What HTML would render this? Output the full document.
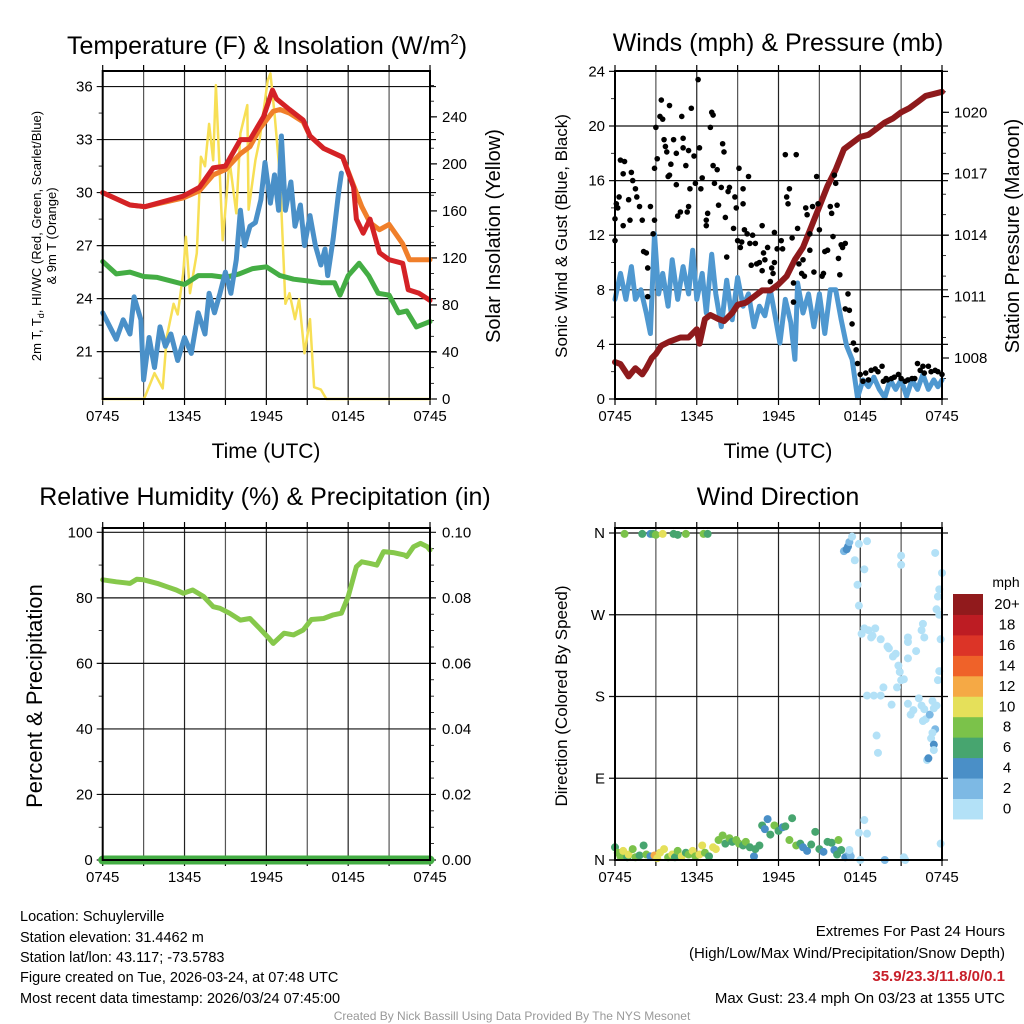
<!DOCTYPE html>
<html><head><meta charset="utf-8"><style>
html,body{margin:0;padding:0;background:#fff;}
svg{display:block;font-family:"Liberation Sans",Arial,sans-serif;}
</style></head><body>
<svg id="c" width="1024" height="1024" viewBox="0 0 1024 1024" xmlns="http://www.w3.org/2000/svg">
<rect width="1024" height="1024" fill="#fff"/>
<text x="267" y="54" font-size="25" text-anchor="middle">Temperature (F) &amp; Insolation (W/m<tspan dy="-10" font-size="15">2</tspan><tspan dy="10">)</tspan></text>
<text x="778" y="51" font-size="25" text-anchor="middle">Winds (mph) &amp; Pressure (mb)</text>
<text x="265" y="505" font-size="25" text-anchor="middle">Relative Humidity (%) &amp; Precipitation (in)</text>
<text x="778" y="505" font-size="25" text-anchor="middle">Wind Direction</text>
<text x="266" y="458" font-size="21" text-anchor="middle">Time (UTC)</text>
<text x="778" y="458" font-size="21" text-anchor="middle">Time (UTC)</text>
<text transform="translate(41,236) rotate(-90)" font-size="13" text-anchor="middle">2m T, T<tspan dy="3" font-size="9">d</tspan><tspan dy="-3">, HI/WC (Red, Green, Scarlet/Blue)</tspan></text>
<text transform="translate(56,236) rotate(-90)" font-size="13" text-anchor="middle">&amp; 9m T (Orange)</text>
<text transform="translate(500,236) rotate(-90)" font-size="20" text-anchor="middle">Solar Insolation (Yellow)</text>
<text transform="translate(567,236) rotate(-90)" font-size="17" text-anchor="middle">Sonic Wind &amp; Gust (Blue, Black)</text>
<text transform="translate(1019,236) rotate(-90)" font-size="20" text-anchor="middle">Station Pressure (Maroon)</text>
<text transform="translate(42,696) rotate(-90)" font-size="22" text-anchor="middle">Percent &amp; Precipitation</text>
<text transform="translate(567,696) rotate(-90)" font-size="17" text-anchor="middle">Direction (Colored By Speed)</text>
<g font-size="14.5">
<text x="20" y="921">Location: Schuylerville</text>
<text x="20" y="942">Station elevation: 31.4462 m</text>
<text x="20" y="962">Station lat/lon: 43.117; -73.5783</text>
<text x="20" y="982">Figure created on Tue, 2026-03-24, at 07:48 UTC</text>
<text x="20" y="1003">Most recent data timestamp: 2026/03/24 07:45:00</text>
</g>
<g font-size="15" text-anchor="end">
<text x="1005" y="936">Extremes For Past 24 Hours</text>
<text x="1005" y="958">(High/Low/Max Wind/Precipitation/Snow Depth)</text>
<text x="1005" y="981" fill="#c8202a" font-weight="bold">35.9/23.3/11.8/0/0.1</text>
<text x="1005" y="1003">Max Gust: 23.4 mph On 03/23 at 1355 UTC</text>
</g>
<text x="512" y="1020" font-size="12" fill="#999" text-anchor="middle">Created By Nick Bassill Using Data Provided By The NYS Mesonet</text>
</svg>
<script>
// ---------- data ----------
const xTickLabels = ["0745","1345","1945","0145","0745"];
const tempTicks = [21,24,27,30,33,36];
const insolTicks = [0,40,80,120,160,200,240];
const windTicks = [0,4,8,12,16,20,24];
const presTicks = [1008,1011,1014,1017,1020];
const rhTicks = [0,20,40,60,80,100];
const precipTicks = ["0.00","0.02","0.04","0.06","0.08","0.10"];
const dirTicks = ["N","E","S","W","N"];
const dirTickVals = [0,90,180,270,360];

const tHours = [0,2.0,3.1,5.9,7.1,8.1,9.0,10.1,10.8,11.8,12.45,12.75,13.7,14.7,15.2,16.2,17.6,18.4,18.6,19.1,19.6,20.3,21.0,22.0,22.4,23.2,24];
const tempRed = [30.0,29.3,29.2,29.8,30.3,31.4,31.5,33.0,33.0,34.3,35.8,35.3,34.7,34.1,33.2,32.5,32.0,30.3,28.5,27.7,28.5,26.6,26.2,26.0,24.5,24.3,23.9];
const orHours = [0,2.0,3.1,5.9,7.1,8.1,9.0,10.1,10.8,11.5,12.5,13.0,13.7,14.7,15.2,16.2,17.6,18.4,19.0,19.6,20.3,21.0,22.0,22.5,24];
const tempOrange = [30.0,29.3,29.2,29.7,30.1,31.0,31.3,32.2,32.6,33.6,34.6,34.7,34.5,34.0,33.2,32.5,32.0,30.4,29.2,28.3,27.9,28.2,27.1,26.2,26.2];
const dHours = [0,1,2,3,4,5,6,7,8,9,10,11,12,13,14,15,16,17,17.4,18,18.8,19.5,20.2,21,21.7,22.3,23,24];
const dewpoint = [26.1,25.4,25.5,25.25,25.2,25.0,24.8,25.3,25.3,25.2,25.4,25.7,25.8,25.3,25.1,25.0,24.9,24.9,24.2,25.3,26.0,25.3,24.3,24.2,23.2,23.3,22.4,22.7];
const wcHours = [0,1,1.5,2,2.3,2.8,3,3.4,3.8,4.2,4.6,5,5.5,6,6.5,7,7.5,7.8,8.2,8.6,9,9.4,9.8,10.1,10.4,10.8,11.2,11.6,11.9,12.3,12.6,12.9,13.1,13.4,13.8,14.1,14.5,14.8,15.2,15.6,16,16.3,16.5,16.9,17.3,17.5];
const windChill = [23.2,21.7,22.8,22.0,24.1,22.8,19.4,21.8,20.1,22.4,21.3,22.0,20.5,21.8,20.9,23.2,22.0,24.3,23.2,24.3,25.5,24.3,26.2,29.0,27.0,28.1,28.3,29.6,31.7,29.4,31.0,29.0,33.2,29.0,30.6,28.1,29.3,27.0,28.7,27.0,25.9,26.8,25.3,27.4,30.0,31.1];
const sHours = [0,3,3.1,3.8,4.4,4.7,5.2,5.5,5.9,6.1,6.4,6.9,7.2,7.5,7.8,8.1,8.3,8.8,9.1,9.3,9.8,10.1,10.6,10.7,11.2,11.5,11.9,12.1,12.3,12.6,13,13.4,13.7,14.1,14.4,14.8,15.2,15.5,16,16.4,24];
const insolation = [0,0,2,22,9,53,81,72,107,138,90,124,206,198,234,203,267,135,175,203,158,226,250,161,203,220,254,271,277,243,189,81,90,68,85,39,68,10,8,0,0];

const wHours = [0,0.4,0.8,1.2,1.5,1.9,2.3,2.6,2.9,3.2,3.5,3.9,4.2,4.6,5,5.4,5.7,6,6.4,6.7,7.1,7.4,7.8,8.2,8.6,9,9.4,9.8,10.2,10.6,11,11.4,11.8,12.1,12.5,12.9,13.2,13.4,13.8,14.2,14.6,15,15.4,15.8,16.2,16.6,17,17.4,17.8,18.2,18.6,19,19.4,19.8,20.2,20.6,21,21.4,21.8,22.2,22.6,23,23.4,23.7,24];
const windSpeed = [7.3,9.2,7.3,9.7,7.3,8.0,6.3,4.8,12.1,7.7,9.2,6.8,10.2,7.3,9.7,7.7,10.9,7.3,9.2,6.3,10.6,7.7,5.3,8.7,5.8,8.9,6.8,7.7,5.3,6.8,6.1,8.0,5.8,4.1,7.3,5.6,2.9,8.5,6.3,7.7,5.3,7.7,4.8,8.0,8.0,5.8,3.9,2.9,0.1,1.4,0.9,1.6,0.7,0.1,1.4,0.7,1.4,0.2,1.4,0.7,1.8,0.7,1.4,0.9,1.4];
const pHours = [0,0.4,1,1.5,2,2.3,2.7,3,3.4,4,4.8,5.4,6,6.2,6.6,7,7.6,8,8.6,9,9.6,10.2,10.8,11.4,12,12.6,13.2,13.8,14.4,15,15.6,16.2,16.8,17.4,18,18.6,19.2,19.8,20.4,21,21.6,22.2,22.8,23.4,24];
const pressure = [1007.8,1007.7,1007.1,1007.5,1007.2,1007.5,1008.0,1008.2,1008.6,1008.8,1009.0,1009.0,1009.4,1008.7,1009.9,1010.1,1009.9,1009.8,1010.2,1010.6,1010.7,1011.0,1011.3,1011.3,1011.6,1012.0,1012.8,1013.4,1014.4,1015.4,1016.4,1017.2,1018.2,1018.5,1018.8,1018.9,1019.2,1019.5,1019.7,1020.0,1020.2,1020.5,1020.8,1020.9,1021.0];
const gustHours = [0.0,0.0,0.1,0.2,0.4,0.6,0.7,0.6,0.3,1.0,1.1,1.2,1.3,1.5,1.6,1.8,2.0,2.1,2.3,2.4,2.6,2.4,2.8,2.9,3.0,2.9,3.1,3.3,3.4,3.5,3.6,3.7,3.8,3.9,4.0,4.1,4.0,4.3,4.5,4.5,4.6,4.8,4.9,5.0,5.0,5.2,5.3,5.4,5.5,5.6,5.4,5.8,5.9,6.1,6.2,6.3,6.4,6.7,6.7,6.8,7.0,7.1,7.2,7.2,7.3,7.5,7.6,7.8,7.9,8.0,8.1,8.2,8.3,8.4,8.7,8.8,8.9,9.0,9.1,9.2,9.3,9.4,9.4,9.5,9.7,9.8,9.9,10.0,10.1,10.3,10.4,10.6,10.8,10.8,10.9,11.0,11.2,11.4,11.5,11.6,11.7,11.9,11.7,12.2,12.3,12.5,12.6,12.7,12.8,13.0,13.1,13.1,13.3,13.4,13.5,13.7,13.8,13.9,14.0,14.1,14.3,14.3,14.5,14.6,14.8,14.9,15.0,15.2,15.3,15.4,15.6,15.8,15.9,16.0,16.1,16.2,16.3,16.4,16.5,16.6,16.7,16.9,16.9,17.1,17.2,17.4,17.5,17.7,17.8,18.0,18.2,18.4,18.6,18.8,19.1,19.3,19.6,19.7,19.9,20.0,20.3,20.5,20.8,21.0,21.3,21.5,21.8,22.0,22.2,22.4,22.6,22.7,23.0,23.2,23.5,23.7,24.0];
const gustSpeed = [11.6,13.2,14.3,14.0,17.5,16.5,17.4,12.7,14.8,14.6,13.1,16.6,16.0,15.4,14.8,14.1,13.1,10.8,10.7,9.6,14.1,7.5,12.1,13.1,19.9,16.9,17.6,20.7,21.9,20.5,19.0,18.5,18.1,16.3,16.4,17.2,21.5,19.0,18.0,15.7,13.4,13.7,20.7,18.4,19.1,17.1,13.7,18.2,15.4,21.3,14.1,17.8,15.8,23.4,18.4,15.4,16.2,13.1,12.7,13.6,19.9,21.0,20.8,17.1,15.8,16.8,14.2,15.5,18.7,18.1,13.3,10.4,15.2,15.5,12.5,14.8,14.0,11.6,16.9,11.1,11.5,14.3,15.4,12.4,12.1,16.3,11.4,9.8,12.0,11.4,9.9,10.0,12.7,9.4,10.7,10.2,11.1,8.6,9.6,9.2,10.0,11.0,12.2,11.6,11.0,17.9,14.8,14.3,15.4,11.8,8.5,7.1,17.9,12.5,9.9,9.2,10.2,9.0,14.0,13.5,10.9,12.1,14.1,9.3,16.3,14.3,12.4,9.0,9.2,10.8,10.9,14.1,13.6,11.9,16.4,15.8,14.2,10.3,9.1,11.3,11.1,11.4,6.6,7.7,6.5,5.5,4.1,3.6,2.6,1.8,1.3,1.9,1.4,2.1,2.2,2.0,2.4,1.3,1.5,1.4,1.5,1.6,1.8,1.5,1.3,1.4,1.5,1.5,2.6,2.1,2.4,1.9,2.4,2.0,2.1,2.0,1.8];

const rhHours = [0,1.0,2.0,2.5,3.0,4.0,4.7,5.4,5.9,6.6,7.4,8.1,8.6,9.3,10.1,10.8,11.5,12.2,12.5,13.3,14.0,14.7,15.3,16.2,16.9,17.5,18.0,18.6,19.0,19.6,20.1,20.6,21.3,22.1,22.3,22.8,23.3,23.8,24];
const relHumidity = [85.5,84.9,84.4,85.7,85.5,84.4,83.4,82.4,81.4,82.4,80.4,77.3,76.8,75.3,73.2,73.7,70.7,67.6,66.1,69.2,68.7,70.2,73.4,73.7,74.8,75.3,80.4,89.5,91.0,90.5,90.0,94.1,93.8,93.1,92.6,95.6,96.6,95.6,94.6];
const precipHours = [0,24];
const precip = [0,0];

const dirHours = [0.7,2.0,2.6,2.8,3.0,3.5,4.3,4.6,5.2,6.5,6.8,0.0,0.2,0.4,0.6,0.9,1.0,1.3,1.5,1.8,2.1,2.3,2.6,2.9,3.1,3.3,3.6,3.9,4.2,4.4,4.6,4.9,5.2,5.4,5.7,5.9,6.2,6.4,6.6,6.9,7.2,7.4,7.6,7.9,8.1,8.4,8.6,8.9,9.1,9.4,9.6,9.9,10.2,10.3,10.6,10.8,11.0,11.2,11.4,11.7,12.0,12.3,12.5,13.0,12.8,13.3,13.6,13.8,14.1,14.4,14.7,15.0,15.3,15.6,15.9,16.1,16.3,16.4,16.6,16.9,17.2,17.3,16.8,17.0,17.1,17.2,17.4,17.6,17.9,17.8,18.5,18.3,17.9,18.6,18.1,18.3,18.9,19.1,18.8,19.5,20.1,20.0,20.4,20.6,20.8,20.9,21.2,21.0,20.3,20.7,18.5,19.0,19.5,21.0,21.0,21.5,21.7,21.9,22.3,22.5,22.7,22.8,23.1,23.4,23.3,23.6,23.5,23.2,23.4,23.3,22.9,23.0,23.4,22.6,19.7,19.2,19.3,23.6,23.8,23.8,23.7,23.5,24.0,23.9,23.8,23.7,22.7,22.5,22.6,22.1,21.5,21.5,21.5,18.3,17.9,18.5,17.2,18.0,19.8,21.2,21.3,23.9];
const dirDegrees = [359,359,359,359,358,359,359,358,359,359,359,14,8,4,10,3,6,12,3,5,16,6,4,5,2,8,12,3,6,3,10,4,8,6,10,4,6,16,8,4,14,12,22,27,18,24,20,22,18,16,20,14,4,12,16,38,34,45,28,38,32,36,37,46,22,16,18,14,10,17,31,12,9,20,19,11,6,22,11,3,8,4,340,342,345,350,356,330,348,303,351,320,280,253,249,255,247,255,245,243,233,235,224,227,214,207,199,198,171,190,181,181,181,335,325,172,160,165,178,170,166,155,160,167,175,170,144,134,127,140,110,112,121,153,190,137,118,276,270,298,290,338,316,243,208,198,245,253,260,230,222,240,245,44,30,29,11,0,0,3,0,18];
const dirSpeeds = [8,6,4,6,8,10,6,6,8,8,6,6,8,8,10,6,10,8,8,6,6,8,4,12,10,10,10,8,10,6,8,10,6,8,10,8,10,10,8,6,10,10,8,8,6,8,6,8,8,6,8,6,4,6,6,6,4,4,6,8,6,4,6,6,8,8,6,4,4,6,6,6,4,6,6,4,6,8,6,4,2,2,2,4,4,2,0,0,0,0,0,0,0,0,0,0,0,0,0,0,0,0,0,0,0,0,0,0,0,0,0,0,0,0,0,0,0,0,0,0,0,0,2,0,0,0,2,0,4,0,0,4,0,0,0,0,0,0,0,0,0,0,0,0,0,0,0,0,0,0,0,0,0,0,0,0,0,0,2,0,0,0,0,0];
const speedBins = ["0","2","4","6","8","10","12","14","16","18","20+"];
const speedColors = ["#b3e1f7","#7db9e4","#4a8fc7","#47a56f","#7bc24a","#e5e05a","#f5a945","#ef6229","#dc3427","#bd1c23","#911a1c"];

// ---------- drawing ----------
const svg = document.getElementById('c');
const NS = 'http://www.w3.org/2000/svg';
function mk(tag, attrs, parent){const e=document.createElementNS(NS,tag);for(const k in attrs)e.setAttribute(k,attrs[k]);(parent||svg).appendChild(e);return e;}
function lin(d0,d1,r0,r1){return v=>r0+(v-d0)*(r1-r0)/(d1-d0);}

const P1={x0:102.7,x1:430,y0:71,y1:399}, P2={x0:615,x1:942,y0:71,y1:399};
const P3={x0:102.7,x1:430,y0:528,y1:860}, P4={x0:615,x1:942,y0:528,y1:860};

function frame(P,name,hLines){
  const g=mk('g',{});
  
  
  const xs=lin(0,24,P.x0,P.x1);
  for(let h=0;h<=24;h+=3){
    const x=xs(h);
    mk('line',{x1:x,x2:x,y1:P.y0,y2:P.y1,stroke:(h%6===0?'#222':'#555'),'stroke-width':1.2},g);
    mk('line',{x1:x,x2:x,y1:P.y1,y2:P.y1+6,stroke:'#000','stroke-width':1.2},g);
    mk('line',{x1:x,x2:x,y1:P.y0,y2:P.y0-6,stroke:'#000','stroke-width':1.2},g);
  }
  hLines.forEach(y=>{mk('line',{x1:P.x0-6,x2:P.x1+6,y1:y,y2:y,stroke:'#111','stroke-width':1.2},g);});
  xTickLabels.forEach((t,i)=>{
    const tl=mk('text',{x:xs(i*6),y:P.y1+22,'font-size':15,'text-anchor':'middle'},g);
    tl.textContent=t;
    
    
  });
  return xs;
}
function border(P,name){
  const r=mk('rect',{x:P.x0,y:P.y0,width:P.x1-P.x0,height:P.y1-P.y0,fill:'none',stroke:'#000','stroke-width':2});
  
  
}
function yLabels(vals,ys,x,anchor,name,fmt){
  vals.forEach(v=>{
    const t=mk('text',{x:x,y:ys(v)+5,'font-size':15,'text-anchor':anchor});
    t.textContent=fmt?fmt(v):v;
    
    
  });
}
function minor(P,ys,from,to,step,side){
  for(let v=from;v<=to+1e-9;v+=step){
    const y=ys(v); if(y<P.y0-0.5||y>P.y1+0.5)continue;
    if(side==='l') mk('line',{x1:P.x0-4,x2:P.x0,y1:y,y2:y,stroke:'#000','stroke-width':0.8});
    else mk('line',{x1:P.x1,x2:P.x1+4,y1:y,y2:y,stroke:'#000','stroke-width':0.8});
  }
}
function path(xs,ys,hx,vy,color,w,name){
  let d='';
  hx.forEach((h,i)=>{d+=(i?'L':'M')+xs(h).toFixed(1)+','+ys(vy[i]).toFixed(1);});
  const p=mk('path',{d:d,fill:'none',stroke:color,'stroke-width':w,'stroke-linejoin':'round','stroke-linecap':'round'});
  
  
  return p;
}

// Panel 1
const yT=lin(18.32,36.88,P1.y1,P1.y0);
const yI=lin(0,279,P1.y1,P1.y0);
const x1=frame(P1,'temp',tempTicks.map(yT));
minor(P1,yT,19.5,36,3,'l'); minor(P1,yI,0,278,13.333,'r');
insolTicks.forEach(v=>mk('line',{x1:P1.x1,x2:P1.x1+7,y1:yI(v),y2:yI(v),stroke:'#000','stroke-width':1.2}));
path(x1,yI,sHours,insolation,'#f7df55',2.5,'insolation-line');
path(x1,yT,dHours,dewpoint,'#44ad44',5,'dewpoint-line');
path(x1,yT,wcHours,windChill,'#4a90c8',5,'wind-chill-line');
path(x1,yT,orHours,tempOrange,'#f07f2a',5,'temp-9m-line');
path(x1,yT,tHours,tempRed,'#d42226',5,'temp-2m-line');
border(P1,'temp');
yLabels(tempTicks,yT,P1.x0-10,'end','temp-y-tick-label');
yLabels(insolTicks,yI,P1.x1+12,'start','insolation-y-tick-label');

// Panel 2
const yW=lin(0,24,P2.y1,P2.y0+0.4);
const yP=lin(1008,1020,358,112.3);
const x2=frame(P2,'wind',windTicks.map(yW));
minor(P2,yW,2,22,4,'l'); minor(P2,yP,1006,1022,1,'r');
presTicks.forEach(v=>mk('line',{x1:P2.x1,x2:P2.x1+7,y1:yP(v),y2:yP(v),stroke:'#000','stroke-width':1.2}));
path(x2,yW,wHours,windSpeed,'#4f98d0',5,'sonic-wind-line');
path(x2,yP,pHours,pressure,'#8e1a1c',6,'pressure-line');
gustHours.forEach((h,i)=>{
  const c=mk('circle',{cx:x2(h),cy:yW(gustSpeed[i]),r:2.8,fill:'#000'});
  
  
});
border(P2,'wind');
yLabels(windTicks,yW,P2.x0-10,'end','wind-y-tick-label');
yLabels(presTicks,yP,P2.x1+12,'start','pressure-y-tick-label');

// Panel 3
const yR=lin(0,100,860,532.3);
const x3=frame(P3,'rh',rhTicks.map(yR));
minor(P3,yR,10,90,20,'l'); minor(P3,yR,5,95,5,'r');
path(x3,yR,rhHours,relHumidity,'#86c84b',5,'rh-line');
path(x3,v=>860-v*3276,precipHours,precip,'#44ad44',9,'precip-line');
border(P3,'rh');
yLabels(rhTicks,yR,P3.x0-10,'end','rh-y-tick-label');
precipTicks.forEach((t,i)=>{
  const tl=mk('text',{x:P3.x1+12,y:yR(rhTicks[i])+5,'font-size':15});
  tl.textContent=t;
  
  
});

// Panel 4
const yD=lin(0,360,860,533);
const x4=frame(P4,'direction',dirTickVals.map(yD));
dirHours.forEach((h,i)=>{
  const bi=Math.min(10,Math.round(dirSpeeds[i]/2));
  const c=mk('circle',{cx:x4(h),cy:yD(dirDegrees[i]),r:4,fill:speedColors[bi]});
  
  
});
border(P4,'direction');
dirTicks.forEach((t,i)=>{
  const tl=mk('text',{x:P4.x0-10,y:yD(dirTickVals[i])+5,'font-size':15,'text-anchor':'end'});
  tl.textContent=t;
  
  
});

// Colorbar
const cb=mk('g',{});


const cbTop=594, cbH=20.45;
speedBins.forEach((lab,i)=>{
  const j=speedBins.length-1-i;
  const r=mk('rect',{x:953,y:cbTop+j*cbH,width:30,height:cbH+0.5,fill:speedColors[i]},cb);
  
  
  const t=mk('text',{x:1007,y:cbTop+j*cbH+15,'font-size':15,'text-anchor':'middle'},cb);
  t.textContent=lab;
  
  
});
const mph=mk('text',{x:1006,y:587,'font-size':14,'text-anchor':'middle'},cb);
mph.textContent='mph';


</script>
</body></html>
